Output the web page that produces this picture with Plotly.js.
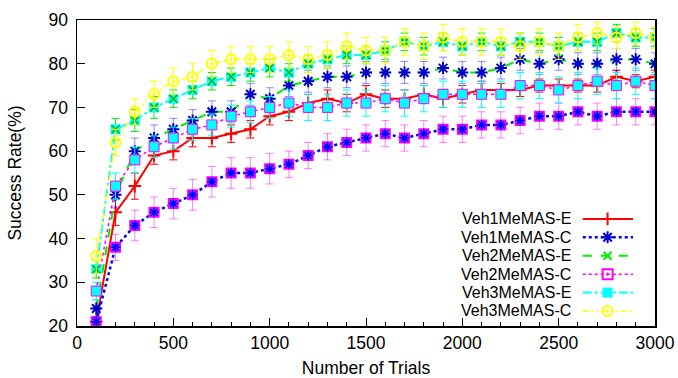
<!DOCTYPE html>
<html>
<head>
<meta charset="utf-8">
<script src="https://cdn.plot.ly/plotly-3.0.1.min.js"></script>
<style>
  html, body { margin: 0; padding: 0; background: #fff; }
  #chart { width: 678px; height: 378px; }
</style>
</head>
<body>
<div id="chart"></div>
<script>
// ---- data ----
const trials = [100,200,300,400,500,600,700,800,900,1000,1100,1200,1300,1400,1500,1600,1700,1800,1900,2000,2100,2200,2300,2400,2500,2600,2700,2800,2900,3000];

const seriesNames = ["Veh1MeMAS-E","Veh1MeMAS-C","Veh2MeMAS-E","Veh2MeMAS-C","Veh3MeMAS-E","Veh3MeMAS-C"];

const veh1E = [21,46,52,59,60,63,63,64,65,68,69,71,72,71,73,72,72,73,72,73,74,74,74,75,75,75,75,77,76,77];
const veh1C = [21,38,43,46,48,50,53,55,55,56,57,59,61,62,63,64,63,64,65,65,66,66,67,68,68,69,68,69,69,69];
const veh2E = [24,50,60,63,65,67,69,69,73,72,75,76,77,77,78,78,78,78,79,78,78,79,81,80,81,80,80,81,81,80];
const veh2C = [28,52,58,61,63,65,66,68,69,70,71,70,70,71,71,72,71,72,73,73,73,73,75,75,74,75,76,75,76,75];
const veh3E = [33,65,67,70,72,74,76,77,78,79,78,80,81,82,82,83,85,84,85,84,85,84,85,85,84,85,85,87,86,86];
const veh3C = [36,62,69,73,76,77,80,81,81,81,82,81,82,84,83,83,85,84,86,85,85,85,84,85,84,86,87,86,87,86];

const err1E = [1,3,3,2,2,2,2,2,2,2,2,2,2,2,2,2,2,2,2,2,2,1.5,1.5,1.5,1.5,1.5,1.5,1.5,1.5,1.5];
const err1C = [1,3,3.5,3.5,3.5,3.5,3.5,3.5,3.5,3.5,3,3,3,3,3,3,3,3,3,3,3,3,3,3,3,3,3,3,3,3];
const err2E = [2,3,3,3,2.5,2.5,2.5,2.5,2.5,2.5,2.5,2.5,2.5,2.5,2.5,2.5,2.5,2.5,2.5,2.5,2.5,2.5,2.5,2.5,2.5,2.5,2.5,2.5,2.5,2.5];
const err2C = [2,3,3,2.5,2.5,2.5,2.5,2.5,2.5,2.5,3,3,3,3,3,3,3,3,3,3,3,3,3,3,3,3,3,3,3,3];
const err3E = [2,2.5,2.5,2.5,2,2,2,2,2,2,2,2,2,2,2,2,2,2,2,2,2,2,2,2,2,2,2,2,2,2];
const err3C = [4,3,3,3,3,3,3,3,3,3,3,3,3,3,3,3,3,3,3,3,3,3,3,3,3,3,2.5,2.5,2.5,2.5];

// ---- styles ----
const RED = "#ff0000", BLUE = "#0000ff", GREEN = "#00ee00", MAG = "#ff00ff", CYAN = "#00ffff", YEL = "#ffff00";
const FONT = "Liberation Sans, Arial, Helvetica, sans-serif";
const FS = 17.5;
const LFS = 16;

function errbar(arr, color) {
  return { type: "data", array: arr, visible: true, color: color, thickness: 1, width: 4 };
}
function mk(symbol, size, color, lw, fill) {
  return { symbol: symbol, size: size, color: fill || color, line: { color: color, width: lw } };
}

const traces = [];
// Veh1MeMAS-E
traces.push({ x: trials, y: veh1E, name: seriesNames[0], mode: "lines+markers",
  line: { color: RED, width: 2 }, marker: mk("cross-thin", 9, RED, 2),
  error_y: errbar(err1E, RED), showlegend: false });
// Veh1MeMAS-C (bottom curve)
traces.push({ x: trials, y: veh1C, name: seriesNames[1], mode: "lines",
  line: { color: BLUE, width: 2.5, dash: "dot" },
  error_y: errbar(err1C, "rgba(255,0,255,0.5)"), showlegend: false });
traces.push({ x: trials, y: veh1C, mode: "markers", hoverinfo: "skip",
  marker: mk("square", 9, MAG, 2, "rgba(120,60,255,0.9)"), showlegend: false });
traces.push({ x: trials, y: veh1C, mode: "markers", hoverinfo: "skip",
  marker: mk("asterisk-open", 8, BLUE, 1.5), showlegend: false });
// Veh2MeMAS-E
traces.push({ x: trials, y: veh2E, name: seriesNames[2], mode: "lines",
  line: { color: GREEN, width: 2, dash: "dash" },
  error_y: errbar(err2E, "rgba(0,0,255,0.45)"), showlegend: false });
traces.push({ x: trials, y: veh2E, mode: "markers", hoverinfo: "skip",
  marker: mk("asterisk-open", 10, "#0000cc", 2), showlegend: false });
// Veh2MeMAS-C
traces.push({ x: trials, y: veh2C, name: seriesNames[3], mode: "lines+markers",
  line: { color: MAG, width: 1.5, dash: "dot" },
  marker: mk("square", 10, MAG, 1, CYAN),
  error_y: errbar(err2C, CYAN), showlegend: false });
// Veh3MeMAS-E
traces.push({ x: trials, y: veh3E, name: seriesNames[4], mode: "lines+markers",
  line: { color: CYAN, width: 2, dash: "dashdot" },
  marker: mk("square", 10, CYAN, 0, CYAN),
  error_y: errbar(err3E, GREEN), showlegend: false });
traces.push({ x: trials, y: veh3E, mode: "markers", hoverinfo: "skip",
  marker: mk("x-thin", 8, "#00b000", 1.5), showlegend: false });
// Veh3MeMAS-C
traces.push({ x: trials, y: veh3C, name: seriesNames[5], mode: "lines+markers",
  line: { color: YEL, width: 1.5, dash: "6px,3px,2px,3px,2px,3px" },
  marker: mk("circle-open-dot", 10, YEL, 2),
  error_y: errbar(err3C, YEL), showlegend: false });

// ---- manual legend (text left, sample right, as in the reference) ----
const legendRows = [0.3500, 0.2898, 0.2296, 0.1694, 0.1093, 0.0491];
const legendStyles = [
  { line: { color: RED, width: 2 }, marker: mk("cross-thin", 9, RED, 2) },
  { line: { color: BLUE, width: 2.5, dash: "dot" }, marker: mk("asterisk-open", 10, "#0000cc", 2) },
  { line: { color: GREEN, width: 2, dash: "dash" }, marker: mk("x-thin", 8, GREEN, 2) },
  { line: { color: MAG, width: 1.5, dash: "dot" }, marker: mk("square-open-dot", 10, MAG, 2) },
  { line: { color: CYAN, width: 2, dash: "dashdot" }, marker: mk("square", 10, CYAN, 0, CYAN) },
  { line: { color: YEL, width: 1.5, dash: "6px,3px,2px,3px,2px,3px" }, marker: mk("circle-open-dot", 10, YEL, 2) }
];
const lx0 = 0.875, lxm = 0.918, lx1 = 0.962, ltext = 0.856;
const annotations = [];
seriesNames.forEach((nm, i) => {
  const yy = legendRows[i];
  traces.push({ x: [lx0, lx1], y: [yy, yy], xaxis: "x2", yaxis: "y2", mode: "lines",
    line: legendStyles[i].line, showlegend: false, hoverinfo: "skip" });
  traces.push({ x: [lxm], y: [yy], xaxis: "x2", yaxis: "y2", mode: "markers",
    marker: legendStyles[i].marker, showlegend: false, hoverinfo: "skip" });
  annotations.push({ xref: "paper", yref: "paper", x: ltext, y: yy, xanchor: "right", yanchor: "middle",
    text: nm, showarrow: false, borderpad: 0, font: { family: FONT, size: LFS, color: "#000" } });
});

const layout = {
  width: 678, height: 378,
  margin: { l: 77.3, r: 23, t: 20, b: 52.3, pad: 0 },
  paper_bgcolor: "#fff", plot_bgcolor: "#fff",
  font: { family: FONT, size: FS, color: "#000" },
  showlegend: false,
  xaxis: {
    range: [0, 3000], tickvals: [0,500,1000,1500,2000,2500,3000],
    ticks: "inside", ticklen: 8, tickwidth: 1, tickcolor: "#000",
    minor: { dtick: 100, tick0: 0, ticks: "inside", ticklen: 4, tickwidth: 1, tickcolor: "#000", showgrid: false },
    showline: true, linecolor: "#000", linewidth: 1.5, mirror: true,
    showgrid: false, zeroline: false,
    tickfont: { family: FONT, size: FS, color: "#000" },
    title: { text: "Number of Trials", font: { family: FONT, size: FS, color: "#000" }, standoff: 10 }
  },
  yaxis: {
    range: [20, 90], tickvals: [20,30,40,50,60,70,80,90],
    ticks: "inside", ticklen: 8, tickwidth: 1, tickcolor: "#000",
    ticklabelstandoff: 4,
    showline: true, linecolor: "#000", linewidth: 1.5, mirror: true,
    showgrid: false, zeroline: false,
    tickfont: { family: FONT, size: FS, color: "#000" },
    title: { text: "Success Rate(%)", font: { family: FONT, size: FS, color: "#000" }, standoff: 22 }
  },
  xaxis2: { overlaying: "x", range: [0, 1], visible: false, fixedrange: true },
  yaxis2: { overlaying: "y", range: [0, 1], visible: false, fixedrange: true },
  annotations: annotations
};

Plotly.newPlot("chart", traces, layout, { displayModeBar: false, staticPlot: true });
</script>
</body>
</html>
